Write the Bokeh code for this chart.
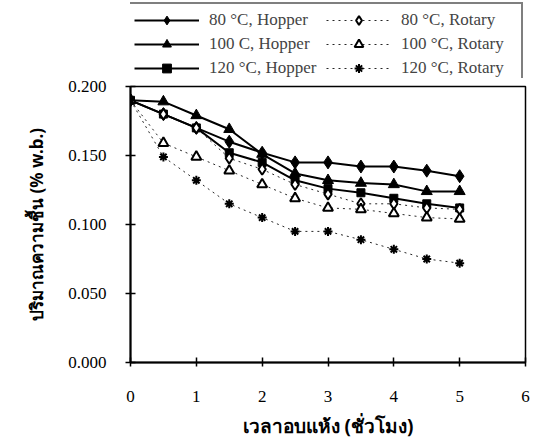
from bokeh.plotting import figure
from bokeh.layouts import column
from bokeh.models import Legend, LegendItem, FixedTicker, PrintfTickFormatter, Range1d
from bokeh.embed import file_html
from bokeh.resources import INLINE

hours = [0, 0.5, 1, 1.5, 2, 2.5, 3, 3.5, 4, 4.5, 5]
h80 = [0.190, 0.180, 0.170, 0.160, 0.152, 0.145, 0.145, 0.142, 0.142, 0.139, 0.135]
h100 = [0.190, 0.189, 0.179, 0.169, 0.151, 0.137, 0.132, 0.130, 0.129, 0.124, 0.124]
h120 = [0.190, 0.180, 0.170, 0.152, 0.145, 0.132, 0.126, 0.123, 0.119, 0.115, 0.112]
r80 = [0.190, 0.180, 0.170, 0.148, 0.140, 0.129, 0.122, 0.115, 0.115, 0.112, 0.111]
r100 = [0.190, 0.159, 0.149, 0.139, 0.129, 0.119, 0.112, 0.111, 0.108, 0.105, 0.104]
r120 = [0.190, 0.149, 0.132, 0.115, 0.105, 0.095, 0.095, 0.089, 0.082, 0.075, 0.072]

labels = ["80 °C, Hopper", "100 C, Hopper", "120 °C, Hopper",
          "80 °C, Rotary", "100 °C, Rotary", "120 °C, Rotary"]
x_ticks = [0, 1, 2, 3, 4, 5, 6]
y_ticks = [0.0, 0.05, 0.10, 0.15, 0.20]
x_title = "เวลาอบแห้ง (ชั่วโมง)"
y_title = "ปริมาณความชื้น (% w.b.)"

SERIF = "'Liberation Serif'"
THAI = "'Noto Sans'"

series = [h80, h100, h120, r80, r100, r120]
styles = [
    dict(marker="diamond", size=13, fill="black", dash="solid", lw=2),
    dict(marker="triangle", size=11, fill="black", dash="solid", lw=2),
    dict(marker="square", size=8, fill="black", dash="solid", lw=2),
    dict(marker="diamond", size=11, fill="white", dash="dotted", lw=1),
    dict(marker="triangle", size=10, fill="white", dash="dotted", lw=1),
    dict(marker="asterisk", size=9, fill="black", dash="dotted", lw=1),
]


def draw(fig, ys, st):
    l = fig.line(hours, ys, line_color="black", line_width=st["lw"], line_dash=st["dash"],
                 line_alpha=1.0 if st["lw"] > 1 else 0.85)
    m = fig.scatter(hours, ys, marker=st["marker"], size=st["size"], line_color="black",
                    line_width=1 if st["lw"] > 1 else 2, fill_color=st["fill"])
    return l, m


# main chart
p = figure(width=531, height=363, output_backend="svg", toolbar_location=None,
           x_range=Range1d(0, 6), y_range=Range1d(0, 0.2),
           min_border_left=130, min_border_right=6, min_border_top=8, min_border_bottom=78)
p.grid.visible = False
p.outline_line_color = "black"
p.outline_line_width = 1.5

for ax in (p.xaxis[0], p.yaxis[0]):
    ax.axis_line_width = 2
    ax.axis_line_color = "black"
    ax.major_tick_line_width = 1.5
    ax.major_tick_in = 5
    ax.major_tick_out = 5
    ax.minor_tick_line_color = None
    ax.major_label_text_font = SERIF
    ax.major_label_text_font_size = "17px"
    ax.major_label_text_color = "black"
    ax.axis_label_text_font = THAI
    ax.axis_label_text_font_style = "bold"
    ax.axis_label_text_color = "black"

p.xaxis.major_tick_out = 4
p.xaxis.axis_label_text_font_size = "19px"
p.yaxis.axis_label_text_font_size = "17px"
p.xaxis.ticker = FixedTicker(ticks=x_ticks)
p.yaxis.ticker = FixedTicker(ticks=y_ticks)
p.yaxis.formatter = PrintfTickFormatter(format="%.3f")
p.xaxis.major_label_standoff = 24
p.yaxis.major_label_standoff = 19
p.xaxis.axis_label = x_title
p.yaxis.axis_label = y_title
p.xaxis.axis_label_standoff = 8
p.yaxis.axis_label_standoff = 17

for ys, st in zip(series, styles):
    draw(p, ys, st)

# legend strip above the chart
lg = figure(width=531, height=78, output_backend="svg", toolbar_location=None,
            x_range=Range1d(100, 101), y_range=Range1d(100, 101),
            min_border_left=0, min_border_right=3, min_border_top=0, min_border_bottom=0,
            x_axis_type=None, y_axis_type=None)
lg.grid.visible = False
lg.outline_line_color = None

items = []
for ys, st, lab in zip(series, styles, labels):
    l, m = draw(lg, ys, st)
    items.append(LegendItem(label=lab, renderers=[l, m]))

legend = Legend(items=items, ncols=2, orientation="vertical",
                location="top_right", border_line_color="black", border_line_width=2,
                label_text_font=SERIF, label_text_font_size="17px",
                glyph_width=65, glyph_height=22, label_height=22, label_width=115,
                label_standoff=10, spacing=2, padding=5, margin=2,
                background_fill_alpha=1.0)
lg.add_layout(legend, "center")

layout = column(lg, p, spacing=0)
open("out.html", "w").write(file_html(layout, INLINE))
